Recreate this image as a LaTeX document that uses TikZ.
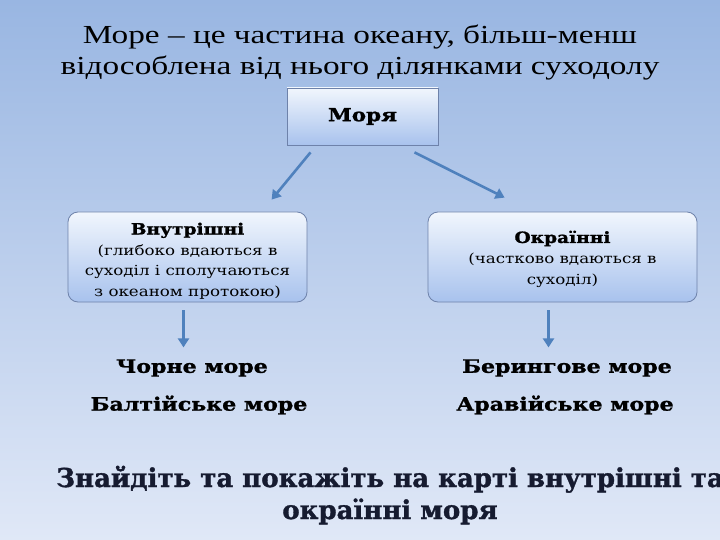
\documentclass[tikz,border=0pt]{standalone}
\usepackage{fontspec}
\setmainfont[FakeStretch=1.28]{Liberation Serif}
\newfontfamily\slabfont[FakeStretch=1.2, BoldFeatures={FakeBold=1.3}]{DejaVu Serif}
\newfontfamily\taskfont[BoldFeatures={FakeBold=1.3}]{DejaVu Serif}
\usetikzlibrary{arrows.meta,positioning}
\definecolor{bgtop}{RGB}{153,182,226}
\definecolor{bgbot}{RGB}{224,232,247}
\definecolor{boxtop}{RGB}{241,246,253}
\definecolor{boxbot}{RGB}{168,194,237}
\definecolor{boxline}{RGB}{110,130,170}
\definecolor{arrowblue}{RGB}{79,129,189}
\definecolor{inkblue}{RGB}{22,27,48}
\tikzset{
	seabox/.style={draw=boxline, line width=0.8pt, top color=boxtop, bottom color=boxbot, align=center},
	seaarrow/.style={draw=arrowblue, line width=2.6pt, -{Triangle[width=11pt,length=9pt]}},
	seaname/.style={font=\slabfont\bfseries\fontsize{18.4}{22}\selectfont, text=black},
	taskline/.style={anchor=base, text=inkblue, font=\taskfont\bfseries\fontsize{26}{30}\selectfont}
}

\begin{document}
\begin{tikzpicture}[x=1pt,y=-1pt]
		%%%%% START %%%%%
		
		\useasboundingbox (0,0) rectangle (720,540);
		\clip (0,0) rectangle (720,540);
		\fill[top color=bgtop, bottom color=bgbot] (0,0) rectangle (720,540);
		
		\node[align=center, font=\fontsize{26}{31}\selectfont] (title) at (360,53)
			{Море – це частина океану, більш-менш\\відособлена від нього ділянками суходолу};
		
		\node[seabox, minimum width=151, minimum height=57, font=\slabfont\bfseries\fontsize{17.9}{20}\selectfont]
			(moria) at (362.5,116.5) {Моря};
		
		\node[seabox, rounded corners=10, minimum width=239, minimum height=90, inner sep=1pt, font=\slabfont\fontsize{13.9}{20.7}\selectfont]
			(inner) at (187.5,257) {\rule{0pt}{20pt}{\bfseries\fontsize{15.5}{21}\selectfont Внутрішні}\\(глибоко вдаються в\\суходіл і сполучаються\\з океаном протокою)};
		\node[seabox, rounded corners=10, minimum width=269, minimum height=90, font=\slabfont\fontsize{13.9}{21}\selectfont]
			(outer) at (562.5,257) {\rule{0pt}{17pt}{\bfseries\fontsize{15.5}{21}\selectfont Окраїнні}\\(частково вдаються в\\суходіл)};
		
		\draw[seaarrow] ([shift={(-52,7)}]moria.south) -- ([shift={(204,-12)}]inner.north west);
		\draw[seaarrow] ([shift={(52,7)}]moria.south) -- ([shift={(77,-14)}]outer.north west);
		
		\node[seaname] (chorne) at (192,368) {Чорне море};
		\node[seaname] (baltic) at (199,405) {Балтійське море};
		\node[seaname] (bering) at (567,368) {Берингове море};
		\node[seaname] (arab) at (565,405) {Аравійське море};
		
		\draw[seaarrow] ([shift={(-4,8)}]inner.south) -- ([shift={(-4,45)}]inner.south);
		\draw[seaarrow] ([shift={(-14,8)}]outer.south) -- ([shift={(-14,45)}]outer.south);
		
		\node[taskline] (task1) at (390,487) {Знайдіть та покажіть на карті внутрішні та};
		\node[taskline] (task2) at (390,519) {окраїнні моря};
		
		%%%%% END %%%%%
	\end{tikzpicture}
\end{document}
